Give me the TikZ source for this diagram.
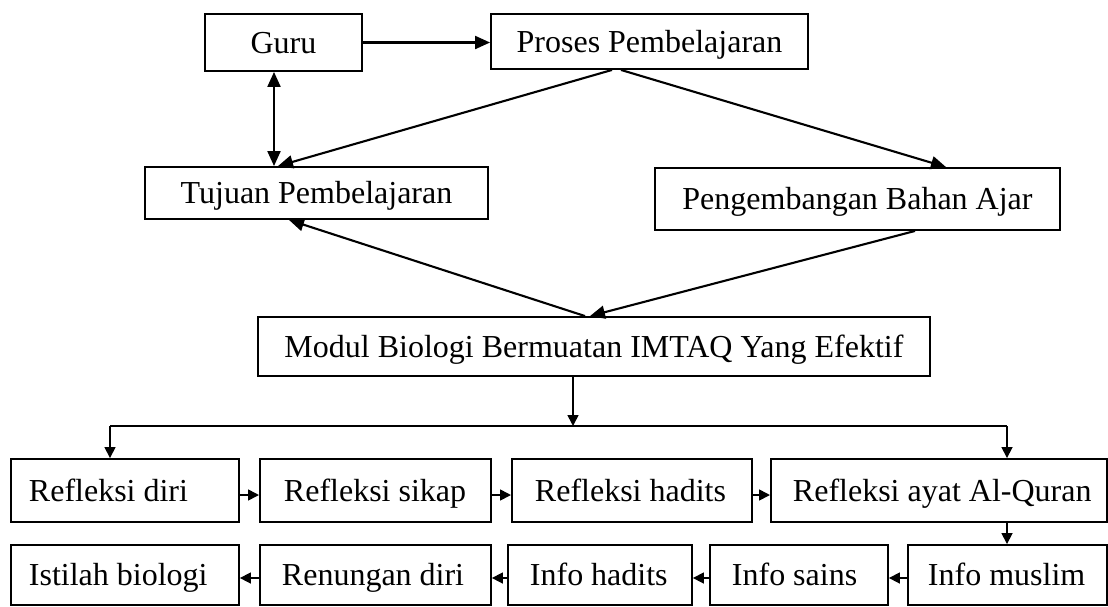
\documentclass[tikz,border=0pt]{standalone}
\usepackage{fontspec}
\setmainfont{Liberation Serif}
\usetikzlibrary{arrows.meta}
\begin{document}
\begin{tikzpicture}[x=1pt,y=-1pt,
  box/.style={draw, line width=1.9pt, inner sep=0pt, text height=26pt, text depth=5pt,
    font=\fontsize{32}{38}\selectfont},
  topbox/.style={box},
  rowbox/.style={box, anchor=west, inner xsep=0pt},
  conn/.style={line width=2.1pt},
  arr/.style={conn, -{Triangle[length=15pt,width=13pt]}},
  darr/.style={conn, {Triangle[length=15pt,width=13pt]}-{Triangle[length=15pt,width=13pt]}},
  sconn/.style={line width=1.6pt},
  sarr/.style={sconn, -{Triangle[length=11pt,width=11pt]}}]
\useasboundingbox (0,0) rectangle (1108,606);

% top part
\node[topbox, minimum width=157pt, minimum height=57pt] (guru) at (283.5,42.5) {Guru};
\node[topbox, minimum width=317pt, minimum height=55pt] (proses) at (649.5,41.5) {Proses Pembelajaran};
\node[topbox, minimum width=343pt, minimum height=52pt] (tujuan) at (316.5,193) {Tujuan Pembelajaran};
\node[topbox, minimum width=405pt, minimum height=62pt] (peng) at (857.5,199) {Pengembangan Bahan Ajar};
\node[topbox, minimum width=672pt, minimum height=59pt] (modul) at (594,346.5) {Modul Biologi Bermuatan IMTAQ Yang Efektif};

% row 1
\node[rowbox, minimum height=63pt] (refdiri) at (10,490.5) {\makebox[228pt][l]{\hspace*{18pt}Refleksi diri}};
\node[rowbox, minimum height=63pt] (refsikap) at (259,490.5) {\makebox[231pt][l]{\hspace*{24pt}Refleksi sikap}};
\node[rowbox, minimum height=63pt] (refhadits) at (511,490.5) {\makebox[240pt][l]{\hspace*{23pt}Refleksi hadits}};
\node[rowbox, minimum height=63pt] (refayat) at (770,490.5) {\makebox[336pt][l]{\hspace*{22pt}Refleksi ayat Al-Quran}};

% row 2
\node[rowbox, minimum height=60pt] (istilah) at (10,575) {\makebox[228pt][l]{\hspace*{18pt}Istilah biologi}};
\node[rowbox, minimum height=60pt] (renungan) at (259,575) {\makebox[231pt][l]{\hspace*{22pt}Renungan diri}};
\node[rowbox, minimum height=60pt] (infohadits) at (507,575) {\makebox[184pt][l]{\hspace*{22pt}Info hadits}};
\node[rowbox, minimum height=60pt] (infosains) at (709,575) {\makebox[178pt][l]{\hspace*{22pt}Info sains}};
\node[rowbox, minimum height=60pt] (infomuslim) at (907,575) {\makebox[199pt][l]{\hspace*{20pt}Info muslim}};

% helper coordinates
\coordinate (gx) at (274,0);
\coordinate (p1) at (612,0);
\coordinate (t1) at (278,0);
\coordinate (p2) at (621,0);
\coordinate (k1) at (946,0);
\coordinate (m1) at (585,0);
\coordinate (t2) at (289,0);
\coordinate (k2) at (915,0);
\coordinate (m2) at (590,0);
\coordinate (v) at (573,426);
\coordinate (hl) at (110,426);
\coordinate (hr) at (1007,426);
\coordinate (r1) at (0,495);
\coordinate (r2) at (0,578);

% top connectors
\draw[arr] (guru.east) -- (guru.east -| proses.west);
\draw[darr] (guru.south -| gx) -- (tujuan.north -| gx);
\draw[arr] (proses.south -| p1) -- (tujuan.north -| t1);
\draw[arr] (proses.south -| p2) -- (peng.north -| k1);
\draw[arr] (modul.north -| m1) -- (tujuan.south -| t2);
\draw[arr] (peng.south -| k2) -- (modul.north -| m2);

% distribution
\draw[sarr] (modul.south -| v) -- (v);
\draw[sconn] (hl) -- (hr);
\draw[sarr] (hl) -- (refdiri.north -| hl);
\draw[sarr] (hr) -- (refayat.north -| hr);

% row 1 chain
\draw[sarr] (refdiri.east |- r1) -- (refsikap.west |- r1);
\draw[sarr] (refsikap.east |- r1) -- (refhadits.west |- r1);
\draw[sarr] (refhadits.east |- r1) -- (refayat.west |- r1);
\draw[sarr] (refayat.south -| hr) -- (infomuslim.north -| hr);

% row 2 chain
\draw[sarr] (infomuslim.west |- r2) -- (infosains.east |- r2);
\draw[sarr] (infosains.west |- r2) -- (infohadits.east |- r2);
\draw[sarr] (infohadits.west |- r2) -- (renungan.east |- r2);
\draw[sarr] (renungan.west |- r2) -- (istilah.east |- r2);
\end{tikzpicture}
\end{document}
